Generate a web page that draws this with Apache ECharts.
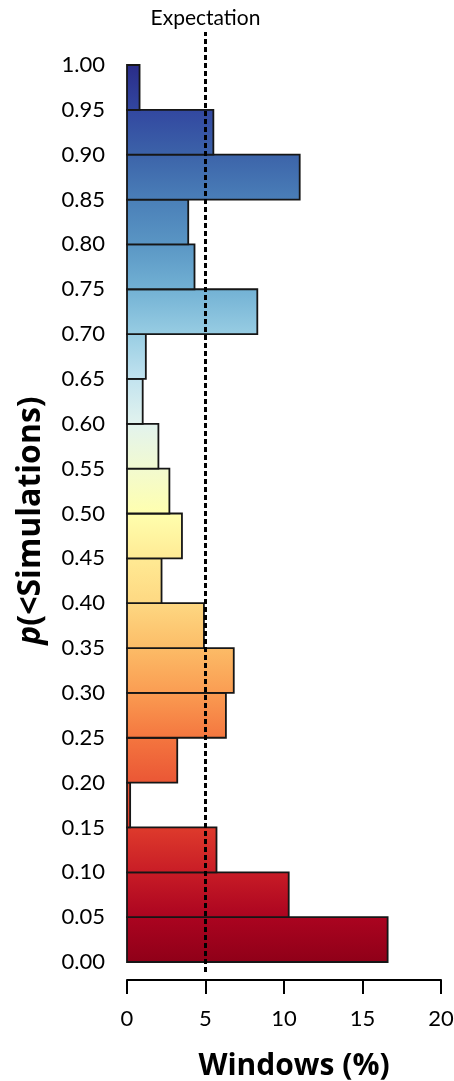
<!DOCTYPE html>
<html>
<head>
<meta charset="utf-8">
<script src="https://cdn.jsdelivr.net/npm/echarts@6/dist/echarts.min.js"></script>
<style>
html,body{margin:0;padding:0;background:#fff;}
#chart{width:454px;height:1081px;}
</style>
</head>
<body>
<div id="chart"></div>
<script>
// ---- data ----
const binLow  = [0.00, 0.05, 0.10, 0.15, 0.20, 0.25, 0.30, 0.35, 0.40, 0.45, 0.50, 0.55, 0.60, 0.65, 0.70, 0.75, 0.80, 0.85, 0.90, 0.95];
const binHigh = [0.05, 0.10, 0.15, 0.20, 0.25, 0.30, 0.35, 0.40, 0.45, 0.50, 0.55, 0.60, 0.65, 0.70, 0.75, 0.80, 0.85, 0.90, 0.95, 1.00];
const windowsPct = [16.6, 10.3, 5.7, 0.2, 3.2, 6.3, 6.8, 4.9, 2.2, 3.5, 2.7, 2.0, 1.0, 1.2, 8.3, 4.3, 3.9, 11.0, 5.5, 0.8];
const expectation = 5;
const xTicks = [0, 5, 10, 15, 20];
const yTickStep = 0.05;

// ---- style: colour ramp along p (RdYlBu-like) ----
const rampPos = [0.00, 0.05, 0.10, 0.15, 0.20, 0.25, 0.30, 0.35, 0.40, 0.45, 0.50, 0.55, 0.60, 0.65, 0.70, 0.75, 0.80, 0.85, 0.90, 0.95, 1.00];
const rampCol = ['#8f0018','#ab0420','#c81c26','#de3b2c','#ea5635','#f4763f','#fa9c52','#fcbc67','#fed882','#ffea94','#ffffae','#f2fad0','#e2f3ee','#c2e3ef','#98cde3','#72b1d4','#5a96c4','#4a7fb8','#3c63a9','#3247a0','#2a2c88'];

function hex2rgb(h){return [parseInt(h.slice(1,3),16),parseInt(h.slice(3,5),16),parseInt(h.slice(5,7),16)];}
function colorAt(p){
  for(let i=0;i<rampPos.length-1;i++){
    if(p<=rampPos[i+1]+1e-9){
      const t=(p-rampPos[i])/(rampPos[i+1]-rampPos[i]);
      const a=hex2rgb(rampCol[i]), b=hex2rgb(rampCol[i+1]);
      const c=a.map((v,k)=>Math.round(v+(b[k]-v)*t));
      return 'rgb('+c.join(',')+')';
    }
  }
  return rampCol[rampCol.length-1];
}

const FONT = 'Lato';
const TFONT = 'Open Sans';
const histData = binLow.map((lo,i)=>[lo, binHigh[i], windowsPct[i]]);
const xMin = xTicks[0], xMax = xTicks[xTicks.length-1], xStep = xTicks[1]-xTicks[0];

const chart = echarts.init(document.getElementById('chart'));
chart.setOption({
  animation:false,
  backgroundColor:'#fff',
  grid:[
    {left:127,right:13,top:65,bottom:119,outerBoundsMode:'none',containLabel:false},  // bars
    {left:127,right:13,top:32,bottom:109,outerBoundsMode:'none',containLabel:false},  // expectation line
    {left:127,right:13,top:65,bottom:101,outerBoundsMode:'none',containLabel:false}   // detached x axis
  ],
  xAxis:[
    {gridIndex:0,type:'value',min:xMin,max:xMax,show:false},
    {gridIndex:1,type:'value',min:xMin,max:xMax,show:false},
    {gridIndex:2,type:'value',min:xMin,max:xMax,interval:xStep,
     axisLine:{show:true,lineStyle:{color:'#000',width:2}},
     axisTick:{show:true,length:14,lineStyle:{color:'#000',width:2}},
     axisLabel:{fontSize:22,margin:28,color:'#000',fontFamily:FONT},
     splitLine:{show:false},
     name:'Windows (%)',nameLocation:'middle',nameGap:71,
     nameTextStyle:{fontSize:30,fontWeight:'bold',color:'#000',fontFamily:TFONT,padding:[0,0,0,20]}
    }
  ],
  yAxis:[
    {gridIndex:0,type:'value',min:0,max:1,interval:yTickStep,
     axisLine:{show:false},axisTick:{show:false},splitLine:{show:false},
     axisLabel:{formatter:v=>v.toFixed(2),fontSize:22,margin:22,color:'#000',fontFamily:FONT},
     name:'{i|p}{b|(<Simulations)}',nameLocation:'middle',nameRotate:90,nameGap:80,
     nameTextStyle:{padding:[0,14,0,0],rich:{
       i:{fontSize:32,fontWeight:'bold',fontStyle:'italic',color:'#000',fontFamily:TFONT},
       b:{fontSize:32,fontWeight:'bold',color:'#000',fontFamily:TFONT}
     }}
    },
    {gridIndex:1,type:'value',min:0,max:1,show:false},
    {gridIndex:2,type:'value',min:0,max:1,show:false}
  ],
  series:[
    {type:'custom',xAxisIndex:0,yAxisIndex:0,data:histData,
     encode:{x:2,y:[0,1]},
     renderItem:function(params,api){
       const lo=api.value(0),hi=api.value(1),v=api.value(2);
       const p0=api.coord([0,hi]);
       const p1=api.coord([v,lo]);
       return {type:'rect',
         shape:{x:p0[0],y:p0[1],width:p1[0]-p0[0],height:p1[1]-p0[1]},
         style:{fill:new echarts.graphic.LinearGradient(0,0,0,1,[
             {offset:0,color:colorAt(hi)},{offset:1,color:colorAt(lo)}]),
           stroke:'#161616',lineWidth:1.8}};
     },
     z:2
    },
    {type:'line',xAxisIndex:1,yAxisIndex:1,data:[],z:5,
     markLine:{silent:true,symbol:['none','none'],
       lineStyle:{color:'#000',width:3,type:[5,3]},
       label:{show:true,position:'end',formatter:'Expectation',fontSize:21,color:'#000',fontFamily:FONT,distance:3},
       data:[{xAxis:expectation}]
     }
    },
    {type:'line',xAxisIndex:2,yAxisIndex:2,data:[],silent:true}
  ]
});
</script>
</body>
</html>
